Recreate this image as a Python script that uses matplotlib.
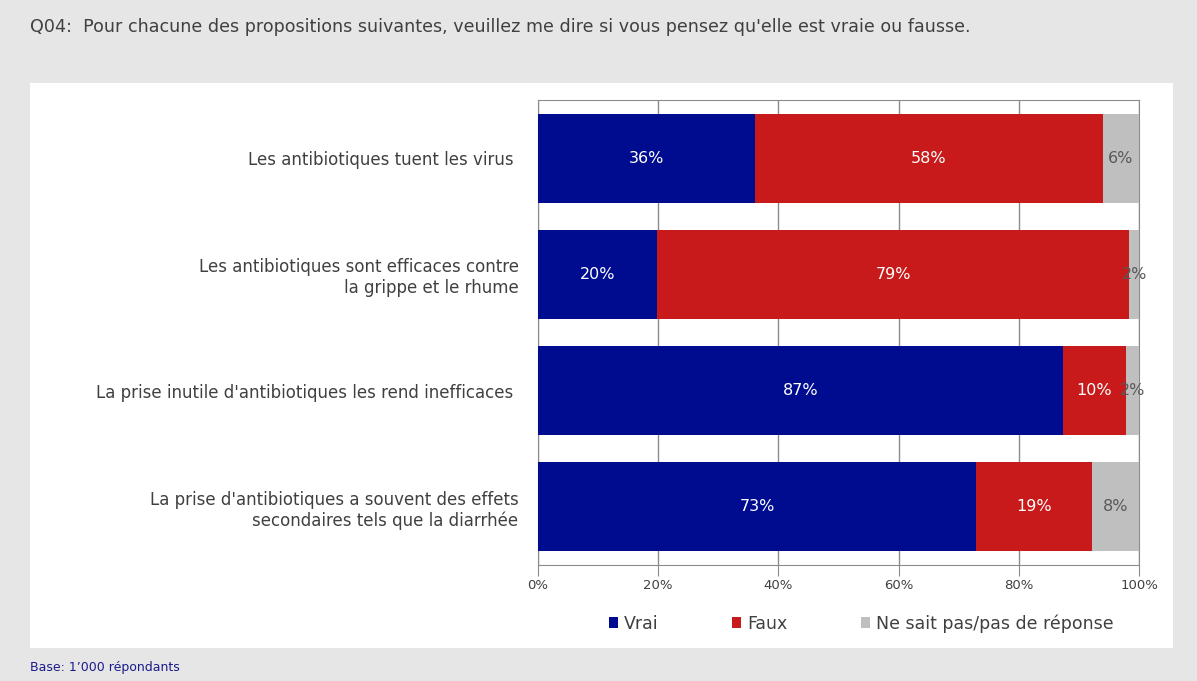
""" Q04 antibiotiques - stacked bars """
import matplotlib
matplotlib.use("Agg")
import matplotlib.pyplot as plt
import numpy as np

# data
categories = [
    "Les antibiotiques tuent les virus ",
    "Les antibiotiques sont efficaces contre\nla grippe et le rhume",
    "La prise inutile d'antibiotiques les rend inefficaces ",
    "La prise d'antibiotiques a souvent des effets\nsecondaires tels que la diarrhée",
]
vrai = [36.1, 19.8, 87.4, 72.9]
faux = [57.9, 78.6, 10.4, 19.2]
nsp = [6.0, 1.6, 2.2, 7.9]
series_names = ["Vrai", "Faux", "Ne sait pas/pas de réponse"]
ticks = [0, 20, 40, 60, 80, 100]

colors = ["#000c8f", "#c81a1a", "#bfbfbf"]
label_colors = ["white", "white", "#595959"]

fig = plt.figure(figsize=(11.97, 6.81), dpi=100)
fig.patch.set_facecolor("#e6e6e6")
W, H = 1197, 681

# white panel behind the chart
panel = fig.add_axes([30 / W, 1 - 648 / H, (1173 - 30) / W, (648 - 83) / H], zorder=-1)
panel.set_facecolor("white")
panel.set_xticks([])
panel.set_yticks([])
for s in panel.spines.values():
    s.set_visible(False)

ax = fig.add_axes([538 / W, 1 - 565 / H, (1139 - 538) / W, (565 - 100) / H])
ax.set_facecolor("white")

y = np.arange(len(categories))
left = np.zeros(len(categories))
for vals, name, c, lc in zip([vrai, faux, nsp], series_names, colors, label_colors):
    vals = np.array(vals)
    ax.barh(y, vals, left=left, height=0.765, color=c, label=name, zorder=3)
    for yi, l, v in zip(y, left, vals):
        ax.text(l + v / 2, yi, f"{v:.0f}%", ha="center", va="center",
                color=lc, fontsize=11.5, zorder=4)
    left += vals

ax.set_xlim(0, 100)
ax.set_ylim(len(categories) - 0.5, -0.5)
ax.set_xticks(ticks)
ax.set_xticklabels([f"{t}%" for t in ticks], fontsize=9.5, color="#404040")
ax.tick_params(axis="x", length=8, color="#8c8c8c", pad=2)
ax.set_yticks(y)
ax.set_yticklabels(categories, fontsize=12, color="#404040", ha="right")
ax.tick_params(axis="y", length=0, pad=14)
ax.grid(axis="x", color="#8c8c8c", linewidth=1, zorder=1)
for s in ax.spines.values():
    s.set_color("#8c8c8c")

leg = ax.legend(loc="upper center", bbox_to_anchor=(0.538, -0.072), ncol=3,
                frameon=False, fontsize=12.5, handlelength=0.55, handleheight=0.55,
                columnspacing=4.2, handletextpad=0.35)
for t in leg.get_texts():
    t.set_color("#404040")

fig.text(30 / W, 1 - 27 / H,
         "Q04:  Pour chacune des propositions suivantes, veuillez me dire si vous pensez qu'elle est vraie ou fausse.",
         fontsize=12.6, color="#404040", va="center")
fig.text(30 / W, 1 - 667 / H, "Base: 1’000 répondants", fontsize=9,
         color="#1a1a8c", va="center")

fig.savefig("out.png", dpi=100, facecolor=fig.get_facecolor())
